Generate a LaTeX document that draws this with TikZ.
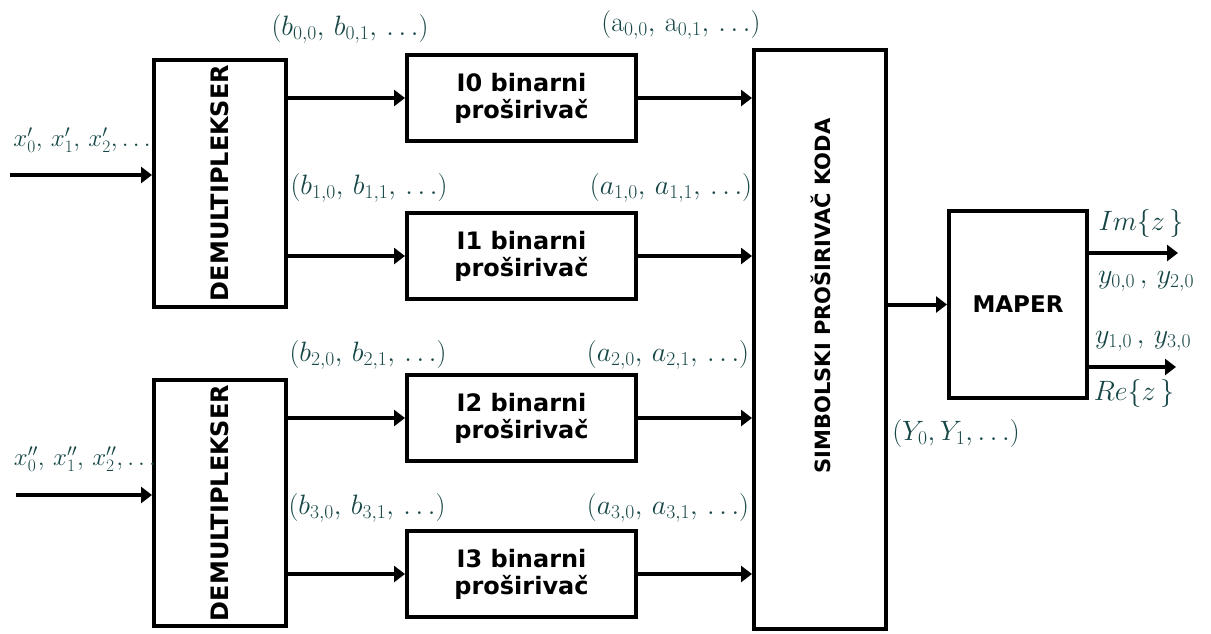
\RequirePackage{fix-cm}
\documentclass[tikz,border=0pt]{standalone}
\usepackage{fontspec}
\newfontfamily\boxfont{DejaVu Sans}
\usetikzlibrary{arrows.meta}
\definecolor{labc}{RGB}{22,70,70}
\tikzset{
 blk/.style={draw, line width=4pt, rectangle, inner sep=0pt, align=center,
   font=\boxfont\bfseries\fontsize{24}{27}\selectfont},
 con/.style={line width=4pt, -{Triangle[length=11pt,width=16pt]}},
 lab/.style={text=labc, inner sep=0pt, font=\fontsize{28}{32}\selectfont},
}
\begin{document}
\begin{tikzpicture}[x=1pt,y=-1pt]
\fill[white] (0,0) rectangle (1211,633);
\useasboundingbox (0,0) rectangle (1211,633);
% blocks
\node[blk, minimum width=132pt, minimum height=247pt] (dm1) at (220,183) {\rotatebox{90}{DEMULTIPLEKSER}};
\node[blk, minimum width=132pt, minimum height=246pt] (dm2) at (220,503) {\rotatebox{90}{DEMULTIPLEKSER}};
\node[blk, minimum width=229pt, minimum height=86pt] (i0) at (521.5,98) {I0 binarni\\proširivač};
\node[blk, minimum width=229pt, minimum height=86pt] (i1) at (521.5,256) {I1 binarni\\proširivač};
\node[blk, minimum width=229pt, minimum height=86pt] (i2) at (521.5,418) {I2 binarni\\proširivač};
\node[blk, minimum width=229pt, minimum height=86pt] (i3) at (521.5,574) {I3 binarni\\proširivač};
\node[blk, minimum width=132pt, minimum height=579pt] (sk) at (820,339) {};
\node[inner sep=0pt, font=\boxfont\bfseries\fontsize{21}{25}\selectfont] (sktxt) at (821,296) {\rotatebox{90}{SIMBOLSKI PROŠIRIVAČ KODA}};
\node[blk, minimum width=138pt, minimum height=187pt, font=\boxfont\bfseries\fontsize{23}{27}\selectfont] (mp) at (1018,304.5) {MAPER};
% inputs
\coordinate (in1) at (10,175);
\coordinate (in2) at (16,495);
\draw[con] (in1) -- (in1 -| dm1.west);
\draw[con] (in2) -- (in2 -| dm2.west);
% demux -> I
\draw[con] (i0.west -| dm1.east) -- (i0.west);
\draw[con] (i1.west -| dm1.east) -- (i1.west);
\draw[con] (i2.west -| dm2.east) -- (i2.west);
\draw[con] (i3.west -| dm2.east) -- (i3.west);
% I -> SK
\draw[con] (i0.east) -- (i0.east -| sk.west);
\draw[con] (i1.east) -- (i1.east -| sk.west);
\draw[con] (i2.east) -- (i2.east -| sk.west);
\draw[con] (i3.east) -- (i3.east -| sk.west);
% SK -> MAPER
\draw[con] (mp.west -| sk.east) -- (mp.west);
% outputs
\coordinate (o1) at (1178,253);
\coordinate (o2) at (1176,367);
\draw[con] (o1 -| mp.east) -- (o1);
\draw[con] (o2 -| mp.east) -- (o2);
% labels
\node[lab, font=\fontsize{25}{30}\selectfont] (lx1) at (82,140) {$x'_0,\,x'_1,\,x'_2,\ldots$};
\node[lab, font=\fontsize{25}{30}\selectfont] (lx2) at (85,459) {$x''_0,\,x''_1,\,x''_2,\ldots$};
\node[lab] (lb0) at (350,29) {$(b_{0,0},\,b_{0,1},\,\ldots)$};
\node[lab] (la0) at (681,25) {$(\mathrm{a}_{0,0},\,\mathrm{a}_{0,1},\,\ldots)$};
\node[lab] (lb1) at (369,188) {$(b_{1,0},\,b_{1,1},\,\ldots)$};
\node[lab] (la1) at (671,188) {$(a_{1,0},\,a_{1,1},\,\ldots)$};
\node[lab] (lb2) at (368,355) {$(b_{2,0},\,b_{2,1},\,\ldots)$};
\node[lab] (la2) at (668,355) {$(a_{2,0},\,a_{2,1},\,\ldots)$};
\node[lab] (lb3) at (367,508) {$(b_{3,0},\,b_{3,1},\,\ldots)$};
\node[lab] (la3) at (668,508) {$(a_{3,0},\,a_{3,1},\,\ldots)$};
\node[lab] (lim) at (1141,223) {$Im\{z\,\}$};
\node[lab] (ly0) at (1146,281) {$y_{0,0}\,,\,y_{2,0}$};
\node[lab] (ly1) at (1143,341) {$y_{1,0}\,,\,y_{3,0}$};
\node[lab] (lre) at (1134,393) {$Re\{z\,\}$};
\node[lab] (lY) at (956,433) {$(Y_0,Y_1,\ldots)$};
\end{tikzpicture}
\end{document}
